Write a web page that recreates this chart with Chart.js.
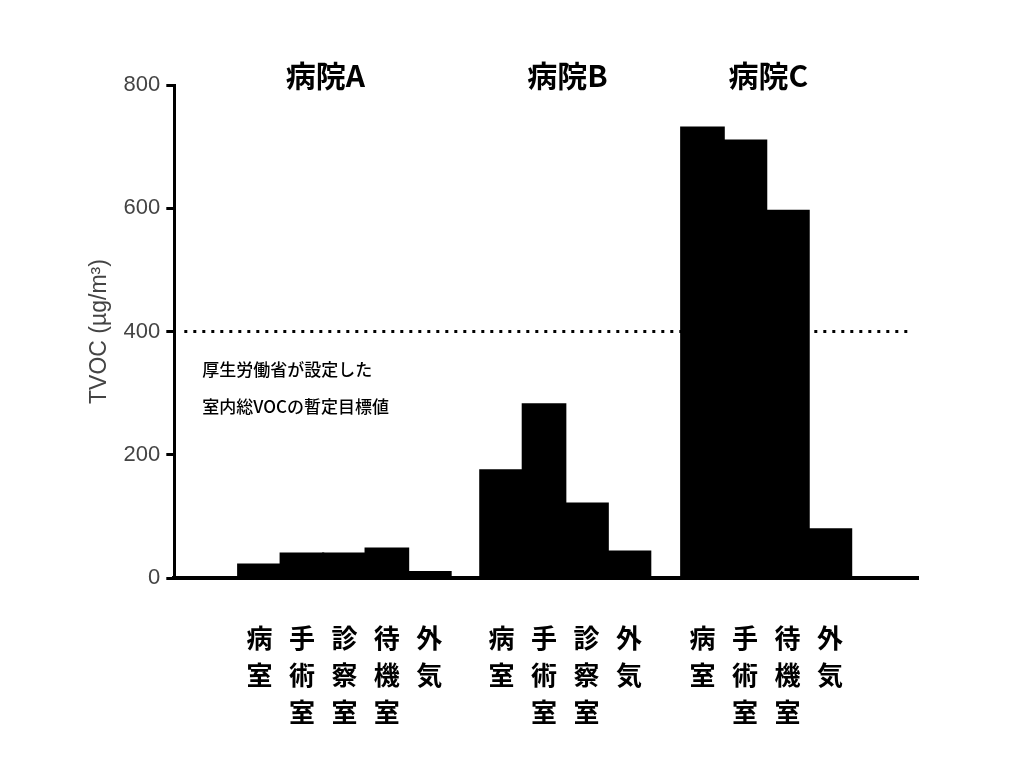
<!DOCTYPE html>
<html><head><meta charset="utf-8">
<script src="https://cdn.jsdelivr.net/npm/chart.js@4/dist/chart.umd.min.js"></script>
<style>body{margin:0;background:#fff}#wrap{width:1022px;height:767px}</style>
</head><body><div id="wrap"><canvas id="c"></canvas></div>
<script>
const hospitals = ['病院A', '病院B', '病院C'];
const rooms = [
  ['病室', '手術室', '診察室', '待機室', '外気'],
  ['病室', '手術室', '診察室', '外気'],
  ['病室', '手術室', '待機室', '外気']
];
const values = [
  [23, 41, 41, 49, 11],
  [176, 283, 122, 44],
  [732, 711, 597, 80]
];
const groupStart = [0, 5.7, 10.43];
const yTicks = [0, 200, 400, 600, 800];
const targetValue = 400;
const targetText = ['厚生労働省が設定した', '室内総VOCの暫定目標値'];

const points = [], labels = [];
values.forEach((vals, g) => vals.forEach((v, i) => {
  points.push({ x: groupStart[g] + i, y: v });
  labels.push(rooms[g][i]);
}));

const JP = '"Noto Sans CJK JP", "Noto Sans", sans-serif';

const extras = {
  id: 'extras',
  afterDraw(chart) {
    const { ctx, scales: { x, y } } = chart;
    ctx.save();
    // target line
    ctx.strokeStyle = '#000';
    ctx.lineWidth = 3;
    ctx.setLineDash([3, 6]);
    ctx.beginPath();
    const yp = y.getPixelForValue(targetValue);
    ctx.moveTo(x.left + 10, yp);
    ctx.lineTo(x.right - 8, yp);
    ctx.stroke();
    ctx.setLineDash([]);
    ctx.fillStyle = '#000';
    ctx.font = '500 17px ' + JP;
    ctx.textAlign = 'left';
    ctx.textBaseline = 'middle';
    targetText.forEach((t, i) => ctx.fillText(t, x.left + 28, yp + 38 + i * 37));
    // vertical room labels
    ctx.font = 'bold 26px ' + JP;
    ctx.textAlign = 'center';
    points.forEach((p, i) => {
      const xp = x.getPixelForValue(p.x);
      [...labels[i]].forEach((ch, k) => ctx.fillText(ch, xp, 638 + k * 37));
    });
    // hospital titles
    ctx.font = 'bold 30px ' + JP;
    hospitals.forEach((h, g) => {
      const xp = x.getPixelForValue(groupStart[g] + 1.55);
      ctx.fillText(h, xp, 76);
    });
    ctx.restore();
  }
};

new Chart(document.getElementById('c'), {
  type: 'bar',
  data: { datasets: [{ data: points, backgroundColor: '#000', barThickness: 44, borderWidth: 0 }] },
  options: {
    responsive: true,
    maintainAspectRatio: false,
    animation: false,
    layout: { padding: { top: 85, right: 104, bottom: 181, left: 82 } },
    plugins: { legend: { display: false }, tooltip: { enabled: false } },
    scales: {
      x: {
        type: 'linear', min: -0.91, max: 14.41,
        ticks: { display: false },
        grid: { display: false },
        border: { color: '#000', width: 4 }
      },
      y: {
        min: 0, max: 800,
        afterBuildTicks: s => { s.ticks = yTicks.map(v => ({ value: v })); },
        ticks: { color: '#444', font: { size: 22, family: 'Liberation Sans, Arial' }, padding: 6 },
        grid: { drawOnChartArea: false, color: '#000', lineWidth: 3, tickLength: 8 },
        border: { color: '#000', width: 3 },
        title: { display: true, text: 'TVOC (µg/m³)', color: '#444', font: { size: 23, family: 'Liberation Sans, Arial' }, padding: 4 }
      }
    }
  },
  plugins: [extras]
});
</script></body></html>
